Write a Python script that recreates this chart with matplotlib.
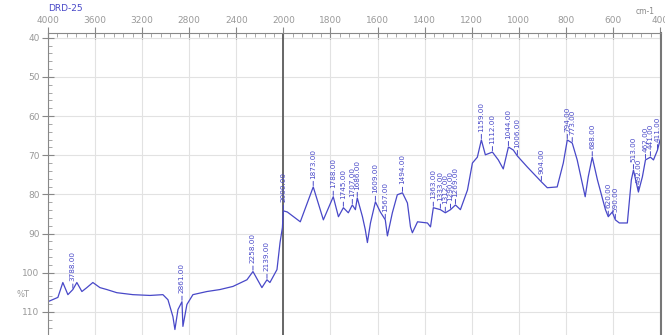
import numpy as np
import matplotlib
matplotlib.use("Agg")
import matplotlib.pyplot as plt
from matplotlib.ticker import FixedLocator

# spectrum (wavenumber cm-1, value)
wn = [4000, 3915, 3873, 3830, 3788, 3754, 3711, 3669, 3618, 3558, 3499, 3414,
      3278, 3133, 3023, 2980, 2938, 2921, 2895, 2861, 2853, 2819, 2768, 2649,
      2539, 2428, 2309, 2258, 2182, 2139, 2114, 2054, 2028, 2008, 2000, 1983,
      1928, 1873, 1830, 1788, 1766, 1745, 1724, 1707, 1694, 1686, 1664, 1652,
      1643, 1630, 1609, 1588, 1567, 1558, 1537, 1516, 1494, 1473, 1460, 1452,
      1430, 1388, 1375, 1363, 1333, 1312, 1290, 1269, 1248, 1218, 1197, 1176,
      1159, 1142, 1112, 1087, 1066, 1044, 1023, 1006, 964, 904, 879, 837, 811,
      794, 773, 752, 718, 705, 688, 666, 632, 620, 603, 590, 573, 539, 522,
      513, 492, 475, 462, 441, 428, 411, 400]
val = [107.4, 106.3, 102.5, 105.6, 104.3, 102.5, 104.8, 103.8, 102.5, 103.8,
       104.3, 105.1, 105.6, 105.8, 105.6, 106.9, 111.2, 114.5, 109.4, 107.4,
       113.7, 108.1, 105.6, 104.8, 104.3, 103.5, 101.8, 99.7, 103.8, 101.8,
       102.5, 99.2, 92.3, 88.5, 84.2, 84.5, 87.0, 78.1, 86.5, 80.6, 85.7, 83.4,
       84.7, 82.7, 83.9, 80.9, 85.7, 89.0, 92.3, 87.3, 81.9, 84.5, 86.5, 90.6,
       84.7, 80.1, 79.6, 82.2, 88.3, 89.8, 87.0, 87.3, 88.3, 83.4, 83.9, 84.7,
       83.9, 82.7, 83.9, 78.9, 72.0, 70.5, 66.1, 69.9, 69.2, 71.2, 73.5, 67.9,
       68.7, 70.2, 73.0, 76.8, 78.3, 78.1, 72.0, 66.1, 66.9, 71.2, 80.6, 75.5,
       70.5, 76.3, 83.9, 85.7, 84.5, 86.5, 87.3, 87.3, 76.3, 73.8, 79.4, 75.5,
       71.2, 70.5, 71.2, 68.7, 66.1]

peaks = [3788, 2861, 2258, 2139, 2000, 1873, 1788, 1745, 1707, 1686, 1609,
         1567, 1494, 1363, 1333, 1312, 1290, 1269, 1159, 1112, 1044, 1006,
         904, 794, 773, 688, 620, 590, 513, 492, 462, 441, 411]

xticks = [4000, 3600, 3200, 2800, 2400, 2000, 1800, 1600, 1400, 1200, 1000,
          800, 600, 400]
yticks = [40, 50, 60, 70, 80, 90, 100, 110]

blue = "#4848c8"


def fwd(w):
    w = np.asarray(w, dtype=float)
    return np.where(w >= 2000, (w - 4000) / 400.0, -5 - (2000 - w) / 200.0)


def inv(p):
    p = np.asarray(p, dtype=float)
    return np.where(p >= -5, 4000 + 400 * p, 2000 + 200 * (p + 5))


fig = plt.figure(figsize=(6.65, 3.35), dpi=100)
ax = fig.add_axes([0.072, 0.0, 0.922, 0.9015])
ax.set_xscale("function", functions=(fwd, inv))
ax.set_xlim(4000, 396)
ax.set_ylim(115.9, 38.8)

ax.plot(wn, val, color=blue, lw=0.9)

wn_a = np.array(wn)[::-1]
val_a = np.array(val)[::-1]
for p in peaks:
    py = np.interp(p, wn_a, val_a)
    ax.annotate("%.2f" % p, xy=(p, py), xytext=(0, 6), textcoords="offset points",
                rotation=90, ha="center", va="bottom", fontsize=5.2, color=blue,
                arrowprops=dict(arrowstyle="-", color=blue, lw=0.7,
                                shrinkA=0, shrinkB=1))

ax.axvline(2000, color="#666666", lw=1.4, zorder=1)

ax.xaxis.tick_top()
ax.xaxis.set_major_locator(FixedLocator(xticks))
minor_x = list(range(4000, 2000, -80)) + list(range(2000, 399, -40))
ax.xaxis.set_minor_locator(FixedLocator(minor_x))
ax.set_xticklabels([str(t) for t in xticks])
ax.yaxis.set_major_locator(FixedLocator(yticks))
ax.yaxis.set_minor_locator(FixedLocator(np.arange(40, 116, 2)))
ax.set_yticklabels([str(t) for t in yticks])

ax.tick_params(axis="both", which="major", direction="inout", length=8,
               color="#888888", labelcolor="#999999", labelsize=6.5, pad=2)
ax.tick_params(axis="both", which="minor", direction="in", length=3,
               color="#999999")
ax.grid(True, which="major", color="#e2e2e2", lw=0.8)
ax.set_axisbelow(True)

for s in ["top", "left"]:
    ax.spines[s].set_color("#888888")
    ax.spines[s].set_linewidth(0.8)
ax.spines["bottom"].set_visible(False)
ax.spines["right"].set_color("#777777")
ax.spines["right"].set_linewidth(1.5)

ax.text(-0.04, 0.135, "%T", transform=ax.transAxes, fontsize=6,
        color="#999999", ha="center", va="center")
fig.text(0.072, 0.975, "DRD-25", color=blue, fontsize=6.5, va="center")
fig.text(0.985, 0.965, "cm-1", color="#888888", fontsize=5.5, ha="right",
         va="center")

fig.savefig("out.png", dpi=100)
